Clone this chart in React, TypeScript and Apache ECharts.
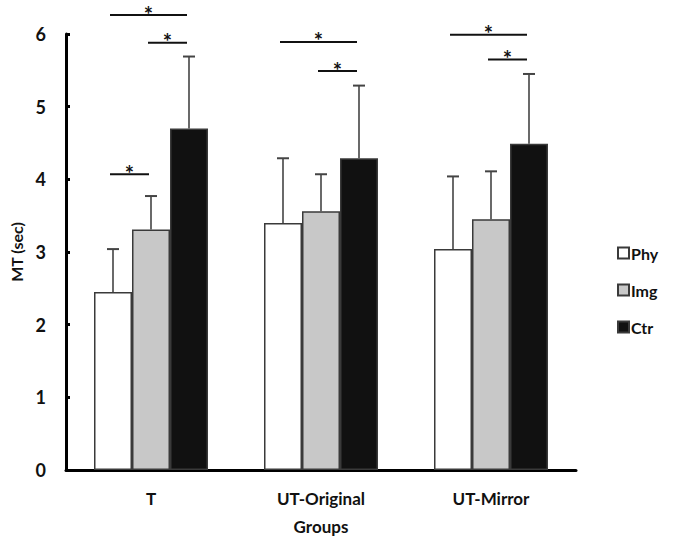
import React, { useEffect, useRef } from "react";
import * as echarts from "echarts";

const categories = ["T", "UT-Original", "UT-Mirror"];
const seriesNames = ["Phy", "Img", "Ctr"];
const phyMean = [2.45, 3.4, 3.04];
const imgMean = [3.31, 3.56, 3.45];
const ctrMean = [4.7, 4.29, 4.49];
const phyUpper = [3.04, 4.29, 4.04];
const imgUpper = [3.77, 4.07, 4.11];
const ctrUpper = [5.69, 5.29, 5.45];
const yTicks = [0, 1, 2, 3, 4, 5, 6];
// [categoryIndex, level, fromBar, toBar]
const sigPairs = [
  [0, 6.26, 0, 2],
  [0, 5.88, 1, 2],
  [0, 4.07, 0, 1],
  [1, 5.89, 0, 2],
  [1, 5.49, 1, 2],
  [2, 5.99, 0, 2],
  [2, 5.65, 1, 2],
];

const FONT = "Lato, 'Open Sans', sans-serif";
const BAR_W = 38;
const colors = ["#ffffff", "#c8c8c8", "#111111"];
const means = [phyMean, imgMean, ctrMean];
const uppers = [phyUpper, imgUpper, ctrUpper];

export default function App() {
  const ref = useRef<HTMLDivElement>(null);
  useEffect(() => {
    if (!ref.current) return;
    const chart = echarts.init(ref.current, null, { renderer: "svg" });

    const barSeries = seriesNames.map((name, i) => ({
      name,
      type: "bar",
      data: means[i],
      barWidth: BAR_W,
      barGap: "0%",
      itemStyle: { color: colors[i], borderColor: "#3a3a3a", borderWidth: 1.5 },
      z: 2,
    }));

    const errSeries = seriesNames.map((name, i) => ({
      type: "custom",
      name: name + "-err",
      data: categories.map((_, c) => [c, means[i][c], uppers[i][c]]),
      encode: { x: 0, y: [1, 2] },
      itemStyle: { color: "#444" },
      z: 1,
      silent: true,
      renderItem: (params: any, api: any) => {
        const c = api.value(0);
        const base = api.coord([c, api.value(1)]);
        const top = api.coord([c, api.value(2)]);
        const x = base[0] + (i - 1) * BAR_W;
        const cap = 6;
        return {
          type: "group",
          children: [
            { type: "line", shape: { x1: x, y1: base[1], x2: x, y2: top[1] }, style: { stroke: "#444", lineWidth: 1.6 } },
            { type: "line", shape: { x1: x - cap, y1: top[1], x2: x + cap, y2: top[1] }, style: { stroke: "#444", lineWidth: 2 } },
          ],
        };
      },
    }));

    const sigSeries = {
      type: "custom",
      name: "sig",
      data: sigPairs,
      encode: { x: 0, y: 1 },
      itemStyle: { color: "#111" },
      clip: false,
      silent: true,
      z: 5,
      renderItem: (params: any, api: any) => {
        const c = api.value(0);
        const p = api.coord([c, api.value(1)]);
        const x1 = p[0] + (api.value(2) - 1) * BAR_W - 3;
        const x2 = p[0] + (api.value(3) - 1) * BAR_W - 2;
        return {
          type: "group",
          children: [
            { type: "line", shape: { x1, y1: p[1], x2, y2: p[1] }, style: { stroke: "#111", lineWidth: 2 } },
            {
              type: "text",
              x: (x1 + x2) / 2,
              y: p[1] - 12,
              style: {
                text: "*",
                fill: "#111",
                font: "bold 22px " + FONT,
                align: "center",
                verticalAlign: "top",
              },
            },
          ],
        };
      },
    };

    chart.setOption({
      animation: false,
      backgroundColor: "#ffffff",
      grid: { left: 62, right: 117, top: 34, bottom: 74, containLabel: false },
      legend: {
        data: seriesNames,
        orient: "vertical",
        left: 612,
        top: 240,
        itemWidth: 11,
        itemHeight: 11,
        itemGap: 21,
        icon: "rect",
        textStyle: { fontFamily: FONT, fontWeight: "bold", fontSize: 16, color: "#111", padding: [0, 0, 0, -3] },
      },
      xAxis: {
        type: "category",
        data: categories,
        name: "Groups",
        nameLocation: "middle",
        nameGap: 48,
        nameTextStyle: { fontFamily: FONT, fontWeight: "bold", fontSize: 17, color: "#111" },
        axisLine: { lineStyle: { color: "#000", width: 3 } },
        axisTick: { show: false },
        axisLabel: { margin: 20, fontFamily: FONT, fontWeight: "bold", fontSize: 17, color: "#111" },
        splitLine: { show: false },
      },
      yAxis: {
        type: "value",
        min: yTicks[0],
        max: yTicks[yTicks.length - 1],
        interval: 1,
        name: "MT (sec)",
        nameLocation: "middle",
        nameGap: 42,
        nameTextStyle: { fontFamily: FONT, fontWeight: "bold", fontSize: 16, color: "#111" },
        axisLine: { show: true, lineStyle: { color: "#000", width: 3 } },
        axisTick: { show: true, inside: true, length: 4, lineStyle: { color: "#000", width: 3 } },
        axisLabel: { margin: 20, fontFamily: FONT, fontWeight: "bold", fontSize: 18, color: "#111" },
        splitLine: { show: false },
      },
      series: [...barSeries, ...errSeries, sigSeries],
    });
    return () => chart.dispose();
  }, []);
  return (
    <div
      ref={ref}
      style={{ position: "fixed", left: 0, top: 0, width: 693, height: 544, background: "#fff" }}
    />
  );
}
